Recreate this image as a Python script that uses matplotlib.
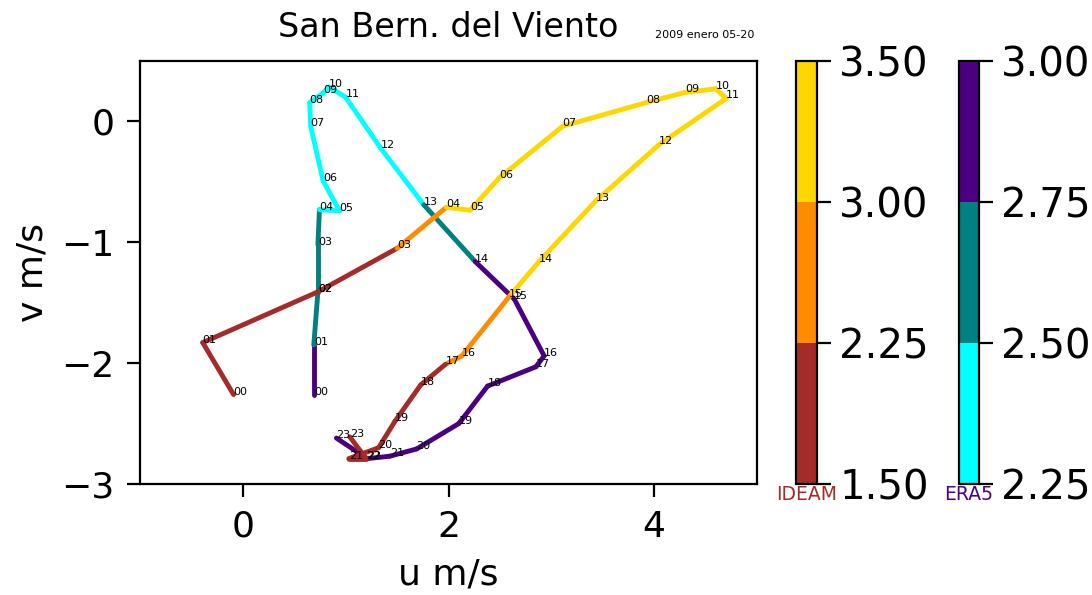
import numpy as np
import matplotlib
matplotlib.use("Agg")
import matplotlib.pyplot as plt
from matplotlib.collections import LineCollection
from matplotlib.colors import ListedColormap, BoundaryNorm
from matplotlib.cm import ScalarMappable

# Hourly wind components (m/s), hours 00..23
hours = [f"{h:02d}" for h in range(24)]

ideam_u = [-0.09, -0.39, 0.73, 1.50, 1.98, 2.21, 2.49, 3.11, 3.92, 4.30, 4.60, 4.70,
           4.05, 3.43, 2.88, 2.59, 2.13, 1.97, 1.73, 1.48, 1.32, 1.03, 1.20, 1.04]
ideam_v = [-2.26, -1.83, -1.41, -1.05, -0.71, -0.735, -0.47, -0.04, 0.155, 0.24, 0.27, 0.19,
           -0.19, -0.66, -1.16, -1.45, -1.94, -2.01, -2.18, -2.48, -2.70, -2.79, -2.79, -2.61]

era5_u = [0.69, 0.69, 0.73, 0.73, 0.745, 0.94, 0.78, 0.66, 0.65, 0.78, 0.84, 1.00,
          1.34, 1.76, 2.26, 2.64, 2.93, 2.85, 2.38, 2.10, 1.69, 1.43, 1.21, 0.91]
era5_v = [-2.26, -1.85, -1.41, -1.02, -0.73, -0.74, -0.49, -0.04, 0.155, 0.235, 0.285, 0.20,
          -0.22, -0.69, -1.16, -1.47, -1.94, -2.03, -2.19, -2.50, -2.71, -2.77, -2.79, -2.62]

# Segment colour values (one per hour-to-hour segment)
ideam_val = [1.9, 1.7, 2.0, 2.6, 3.1, 3.2, 3.3, 3.4, 3.45, 3.45, 3.4, 3.3,
             3.2, 3.1, 3.05, 2.8, 2.4, 2.1, 1.9, 1.8, 1.7, 1.6, 1.6]
era5_val = [2.8, 2.7, 2.6, 2.55, 2.45, 2.4, 2.35, 2.3, 2.3, 2.35, 2.4, 2.45,
            2.48, 2.6, 2.8, 2.9, 2.95, 2.95, 2.9, 2.85, 2.8, 2.8, 2.8]

ideam_bounds = [1.5, 2.25, 3.0, 3.5]
era5_bounds = [2.25, 2.5, 2.75, 3.0]
ideam_colors = ["brown", "darkorange", "gold"]
era5_colors = ["cyan", "teal", "indigo"]

title = "San Bern. del Viento"
subtitle = "2009 enero 05-20"

fig = plt.figure(figsize=(10.92, 5.95), dpi=100)
W, H = 1092, 595
ax = fig.add_axes([140 / W, 1 - 484 / H, 617 / W, 423 / H])


def segments(u, v):
    pts = np.column_stack([u, v]).reshape(-1, 1, 2)
    return np.concatenate([pts[:-1], pts[1:]], axis=1)


era5_cmap = ListedColormap(era5_colors)
era5_norm = BoundaryNorm(era5_bounds, era5_cmap.N)
ideam_cmap = ListedColormap(ideam_colors)
ideam_norm = BoundaryNorm(ideam_bounds, ideam_cmap.N)

lc_e = LineCollection(segments(era5_u, era5_v), cmap=era5_cmap, norm=era5_norm,
                      linewidth=3.5, capstyle="round", joinstyle="round")
lc_e.set_array(np.asarray(era5_val))
ax.add_collection(lc_e)

lc_i = LineCollection(segments(ideam_u, ideam_v), cmap=ideam_cmap, norm=ideam_norm,
                      linewidth=3.5, capstyle="round", joinstyle="round")
lc_i.set_array(np.asarray(ideam_val))
ax.add_collection(lc_i)

for h, u, v in zip(hours, era5_u, era5_v):
    ax.text(u, v, h, fontsize=8, color="black")
for h, u, v in zip(hours, ideam_u, ideam_v):
    ax.text(u, v, h, fontsize=8, color="black")

ax.set_xlim(-1, 5)
ax.set_ylim(-3, 0.5)
ax.set_xticks([0, 2, 4])
ax.set_yticks([-3, -2, -1, 0])
ax.tick_params(labelsize=26, length=9.5, width=1.6, pad=9)
for s in ax.spines.values():
    s.set_linewidth(1.6)
ax.set_xlabel("u m/s", fontsize=26, labelpad=10)
ax.set_ylabel("v m/s", fontsize=26, labelpad=8)
ax.set_title(title, fontsize=24, pad=17)
fig.text(655 / W, 1 - 38 / H, subtitle, fontsize=8)

# Colour bars
cax1 = fig.add_axes([796 / W, 1 - 484 / H, 21 / W, 423 / H])
cax2 = fig.add_axes([959 / W, 1 - 484 / H, 20 / W, 423 / H])
cb1 = fig.colorbar(ScalarMappable(norm=ideam_norm, cmap=ideam_cmap), cax=cax1)
cb2 = fig.colorbar(ScalarMappable(norm=era5_norm, cmap=era5_cmap), cax=cax2)
for cb, name, col in [(cb1, "IDEAM", "brown"), (cb2, "ERA5", "indigo")]:
    cb.ax.tick_params(labelsize=29, length=10, width=1.6, pad=6)
    cb.outline.set_linewidth(1.6)
    cb.ax.set_xlabel(name, color=col, fontsize=13.5, labelpad=1)

fig.savefig("out.png", dpi=100)
